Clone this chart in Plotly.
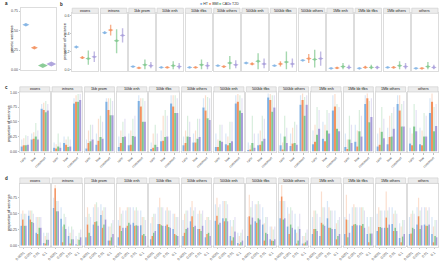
import plotly.graph_objects as go

TRAITS = ["HT", "BMI", "CAD", "T2D"]
COLORS = ["#7fb1e3", "#f3915e", "#7fc78d", "#a79cd9"]
ANNOTS = ["exons", "introns", "1kb prom", "10kb enh", "10kb tfbs", "10kb others",
          "500kb enh", "500kb tfbs", "500kb others", "1Mb enh", "1Mb kb tfbs",
          "1Mb others", "others"]
MAF_BINS = ["rare", "low", "common"]
P_BINS = ["0.0001", "0.001", "0.01", "0.1"]

# ---- panel a: genetic variance ----
A_VAL = [0.575, 0.28, 0.05, 0.07]
A_LO = [0.56, 0.27, 0.045, 0.065]
A_HI = [0.59, 0.29, 0.055, 0.075]

# ---- panel b: proportion of variance per annotation (centre, low, high) ----
B_MID = {
    "HT":  [0.25, 0.41, 0.03, 0.02, 0.02, 0.04, 0.07, 0.04, 0.10, 0.01, 0.01, 0.02, 0.01],
    "BMI": [0.13, 0.44, 0.015, 0.02, 0.02, 0.03, 0.06, 0.06, 0.12, 0.015, 0.02, 0.02, 0.01],
    "CAD": [0.12, 0.32, 0.05, 0.04, 0.05, 0.07, 0.09, 0.08, 0.11, 0.03, 0.02, 0.04, 0.03],
    "T2D": [0.14, 0.38, 0.04, 0.03, 0.04, 0.05, 0.06, 0.06, 0.12, 0.02, 0.02, 0.03, 0.02],
}
B_LO = {
    "HT":  [0.235, 0.395, 0.025, 0.015, 0.015, 0.035, 0.065, 0.035, 0.095, 0.005, 0.005, 0.015, 0.005],
    "BMI": [0.115, 0.38, 0.01, 0.015, 0.015, 0.02, 0.045, 0.03, 0.07, 0.005, 0.01, 0.01, 0.005],
    "CAD": [0.05, 0.18, 0.0, 0.0, 0.0, 0.0, 0.0, 0.0, 0.02, 0.0, 0.0, 0.0, 0.0],
    "T2D": [0.08, 0.30, 0.01, 0.0, 0.0, 0.01, 0.01, 0.02, 0.04, 0.0, 0.0, 0.0, 0.0],
}
B_HI = {
    "HT":  [0.265, 0.425, 0.035, 0.025, 0.025, 0.045, 0.075, 0.045, 0.105, 0.015, 0.015, 0.025, 0.015],
    "BMI": [0.145, 0.50, 0.02, 0.025, 0.025, 0.04, 0.075, 0.09, 0.17, 0.025, 0.04, 0.03, 0.015],
    "CAD": [0.21, 0.45, 0.11, 0.09, 0.11, 0.15, 0.18, 0.20, 0.22, 0.07, 0.05, 0.09, 0.08],
    "T2D": [0.20, 0.46, 0.08, 0.07, 0.08, 0.10, 0.12, 0.12, 0.20, 0.05, 0.04, 0.07, 0.05],
}

# ---- panel c: by MAF bin (rare, low, common) per annotation ----
C_VAL = {
    "HT":  [[0.08, 0.20, 0.72], [0.06, 0.14, 0.81], [0.045, 0.11, 0.84], [0.07, 0.10, 0.85],
            [0.04, 0.17, 0.81], [0.10, 0.15, 0.74], [0.07, 0.12, 0.81], [0.02, 0.10, 0.91],
            [0.10, 0.09, 0.79], [0.12, 0.21, 0.69], [0.07, 0.16, 0.80], [0.08, 0.12, 0.80],
            [0.13, 0.12, 0.65]],
    "BMI": [[0.10, 0.21, 0.70], [0.045, 0.11, 0.84], [0.14, 0.18, 0.70], [0.14, 0.11, 0.76],
            [0.06, 0.18, 0.76], [0.14, 0.15, 0.69], [0.07, 0.10, 0.84], [0.03, 0.11, 0.87],
            [0.03, 0.13, 0.87], [0.16, 0.17, 0.76], [0.04, 0.08, 0.90], [0.11, 0.24, 0.69],
            [0.10, 0.10, 0.84]],
    "CAD": [[0.10, 0.25, 0.66], [0.08, 0.07, 0.84], [0.17, 0.24, 0.61], [0.24, 0.26, 0.50],
            [0.11, 0.24, 0.65], [0.25, 0.21, 0.56], [0.18, 0.14, 0.69], [0.14, 0.17, 0.67],
            [0.25, 0.14, 0.60], [0.28, 0.35, 0.38], [0.20, 0.34, 0.49], [0.33, 0.25, 0.42],
            [0.42, 0.25, 0.34]],
    "T2D": [[0.11, 0.20, 0.69], [0.06, 0.08, 0.87], [0.20, 0.21, 0.61], [0.25, 0.25, 0.50],
            [0.07, 0.25, 0.65], [0.24, 0.24, 0.53], [0.16, 0.17, 0.65], [0.06, 0.21, 0.74],
            [0.14, 0.11, 0.79], [0.38, 0.30, 0.34], [0.14, 0.25, 0.58], [0.22, 0.38, 0.42],
            [0.34, 0.25, 0.43]],
}
C_HI = {
    "HT":  [[0.20, 0.30, 0.80], [0.15, 0.25, 0.90], [0.20, 0.30, 0.90], [0.25, 0.30, 0.95],
            [0.15, 0.35, 0.95], [0.25, 0.30, 0.90], [0.30, 0.30, 0.95], [0.15, 0.30, 0.98],
            [0.30, 0.30, 0.95], [0.35, 0.50, 0.95], [0.30, 0.45, 0.95], [0.30, 0.40, 0.95],
            [0.40, 0.40, 0.90]],
    "BMI": [[0.22, 0.32, 0.82], [0.12, 0.20, 0.95], [0.35, 0.55, 0.90], [0.35, 0.35, 0.90],
            [0.30, 0.60, 0.95], [0.35, 0.35, 0.95], [0.20, 0.25, 0.97], [0.10, 0.35, 0.97],
            [0.15, 0.40, 0.98], [0.45, 0.45, 0.97], [0.20, 0.35, 0.98], [0.40, 0.60, 0.95],
            [0.30, 0.35, 0.98]],
    "CAD": [[0.27, 0.48, 0.85], [0.30, 0.25, 0.97], [0.45, 0.60, 0.90], [0.50, 0.55, 0.90],
            [0.45, 0.70, 0.95], [0.60, 0.55, 0.92], [0.45, 0.50, 0.95], [0.60, 0.60, 0.95],
            [0.60, 0.50, 0.92], [0.75, 0.70, 0.80], [0.60, 0.70, 0.85], [0.75, 0.65, 0.80],
            [0.80, 0.65, 0.75]],
    "T2D": [[0.26, 0.35, 0.80], [0.15, 0.20, 0.97], [0.45, 0.50, 0.85], [0.55, 0.60, 0.85],
            [0.30, 0.60, 0.90], [0.50, 0.55, 0.90], [0.45, 0.50, 0.90], [0.30, 0.55, 0.95],
            [0.40, 0.45, 0.95], [0.70, 0.65, 0.75], [0.45, 0.60, 0.90], [0.55, 0.75, 0.85],
            [0.70, 0.60, 0.80]],
}

# ---- panel d: by p-value threshold bin per annotation ----
D_VAL = {
    "HT":  [[0.31, 0.47, 0.20, 0.04], [0.59, 0.42, 0.15, 0.02], [0.13, 0.33, 0.48, 0.08],
            [0.13, 0.28, 0.36, 0.32], [0.10, 0.34, 0.31, 0.26], [0.15, 0.38, 0.26, 0.13],
            [0.39, 0.43, 0.15, 0.04], [0.15, 0.38, 0.33, 0.10], [0.43, 0.30, 0.25, 0.03],
            [0.18, 0.15, 0.43, 0.26], [0.18, 0.31, 0.32, 0.18], [0.23, 0.28, 0.34, 0.12],
            [0.18, 0.33, 0.33, 0.18]],
    "BMI": [[0.41, 0.41, 0.18, 0.03], [0.90, 0.05, 0.03, 0.01], [0.33, 0.37, 0.28, 0.08],
            [0.31, 0.31, 0.31, 0.16], [0.15, 0.34, 0.33, 0.18], [0.20, 0.46, 0.26, 0.18],
            [0.47, 0.38, 0.08, 0.02], [0.46, 0.36, 0.08, 0.08], [0.77, 0.18, 0.03, 0.03],
            [0.26, 0.36, 0.28, 0.10], [0.41, 0.33, 0.31, 0.05], [0.29, 0.44, 0.23, 0.05],
            [0.19, 0.46, 0.31, 0.05]],
    "CAD": [[0.31, 0.37, 0.28, 0.09], [0.54, 0.33, 0.10, 0.09], [0.20, 0.38, 0.33, 0.13],
            [0.23, 0.36, 0.32, 0.18], [0.20, 0.32, 0.29, 0.16], [0.26, 0.29, 0.23, 0.20],
            [0.33, 0.43, 0.13, 0.05], [0.33, 0.43, 0.20, 0.07], [0.41, 0.33, 0.08, 0.05],
            [0.26, 0.33, 0.28, 0.15], [0.13, 0.34, 0.34, 0.19], [0.29, 0.28, 0.28, 0.14],
            [0.28, 0.26, 0.31, 0.15]],
    "T2D": [[0.31, 0.36, 0.28, 0.09], [0.54, 0.26, 0.10, 0.13], [0.15, 0.31, 0.41, 0.18],
            [0.28, 0.33, 0.31, 0.15], [0.23, 0.31, 0.28, 0.15], [0.28, 0.31, 0.31, 0.15],
            [0.36, 0.38, 0.22, 0.08], [0.44, 0.41, 0.18, 0.10], [0.43, 0.28, 0.26, 0.08],
            [0.23, 0.31, 0.26, 0.18], [0.20, 0.32, 0.28, 0.19], [0.28, 0.33, 0.23, 0.18],
            [0.26, 0.32, 0.33, 0.13]],
}
D_HI = {
    "HT":  [[0.50, 0.55, 0.45, 0.20], [0.75, 0.60, 0.30, 0.15], [0.45, 0.60, 0.65, 0.30],
            [0.40, 0.55, 0.60, 0.55], [0.35, 0.60, 0.55, 0.50], [0.40, 0.60, 0.50, 0.40],
            [0.65, 0.70, 0.40, 0.20], [0.45, 0.65, 0.60, 0.30], [0.70, 0.60, 0.50, 0.15],
            [0.45, 0.45, 0.70, 0.55], [0.45, 0.60, 0.60, 0.45], [0.50, 0.55, 0.60, 0.35],
            [0.45, 0.60, 0.60, 0.45]],
    "BMI": [[0.55, 0.55, 0.45, 0.15], [0.95, 0.30, 0.20, 0.10], [0.60, 0.65, 0.55, 0.30],
            [0.60, 0.60, 0.55, 0.45], [0.45, 0.75, 0.60, 0.50], [0.50, 0.70, 0.55, 0.45],
            [0.75, 0.70, 0.30, 0.15], [0.80, 0.65, 0.35, 0.30], [0.95, 0.50, 0.20, 0.15],
            [0.55, 0.85, 0.60, 0.35], [0.80, 0.65, 0.60, 0.30], [0.60, 0.85, 0.50, 0.30],
            [0.50, 0.75, 0.60, 0.30]],
    "CAD": [[0.50, 0.55, 0.45, 0.20], [0.70, 0.50, 0.30, 0.20], [0.50, 0.68, 0.60, 0.35],
            [0.50, 0.60, 0.60, 0.45], [0.50, 0.60, 0.55, 0.45], [0.55, 0.55, 0.50, 0.45],
            [0.60, 0.70, 0.40, 0.20], [0.60, 0.70, 0.45, 0.25], [0.70, 0.60, 0.30, 0.20],
            [0.55, 0.60, 0.55, 0.40], [0.40, 0.60, 0.60, 0.45], [0.55, 0.55, 0.55, 0.40],
            [0.55, 0.55, 0.55, 0.40]],
    "T2D": [[0.50, 0.50, 0.45, 0.20], [0.70, 0.45, 0.25, 0.25], [0.45, 0.60, 0.60, 0.40],
            [0.55, 0.60, 0.55, 0.40], [0.50, 0.60, 0.55, 0.45], [0.55, 0.60, 0.55, 0.40],
            [0.65, 0.65, 0.45, 0.25], [0.70, 0.65, 0.45, 0.30], [0.70, 0.55, 0.50, 0.25],
            [0.50, 0.60, 0.55, 0.45], [0.50, 0.60, 0.55, 0.45], [0.55, 0.60, 0.50, 0.40],
            [0.50, 0.60, 0.60, 0.40]],
}

# ------------------------------------------------------------------
W, H = 440, 264
FONT = "Liberation Sans"
TXT = "#4d4d4d"
BORDER = "#d4d4d4"
STRIP_FILL = "#ececec"
TICK_SIZE = 3.6
STRIP_SIZE = 3.8


def fx(p):
    return p / W


def fy(p):
    return 1 - p / H


def rgba(hexc, a):
    h = hexc.lstrip("#")
    return "rgba(%d,%d,%d,%.2f)" % (int(h[0:2], 16), int(h[2:4], 16), int(h[4:6], 16), a)


layout = dict(
    width=W, height=H, autosize=False,
    margin=dict(l=0, r=0, t=0, b=0),
    paper_bgcolor="white", plot_bgcolor="white",
    showlegend=False, barmode="group", bargap=0.18, bargroupgap=0.0,
    font=dict(family=FONT, size=4, color=TXT),
    hovermode=False,
)
traces = []
shapes = []
annotations = []
counter = [0]


def new_axes(x0, x1, y0, y1, yrange, yticks=None, ylabels=None, xcats=None, xrange=None):
    counter[0] += 1
    k = counter[0]
    sx = "" if k == 1 else str(k)
    xa = dict(domain=[fx(x0), fx(x1)], anchor="y" + sx, showgrid=False, zeroline=False,
              showline=True, mirror=True, linecolor=BORDER, linewidth=0.8, fixedrange=True)
    if xcats is not None:
        xa.update(type="category", categoryorder="array", categoryarray=xcats,
                  tickangle=-45, tickfont=dict(size=TICK_SIZE, color=TXT), ticks="outside",
                  ticklen=1.2, tickwidth=0.5, tickcolor="#888888", range=[-0.5, len(xcats) - 0.5])
    else:
        xa.update(showticklabels=False, ticks="", range=xrange)
    ya = dict(domain=[fy(y1), fy(y0)], anchor="x" + sx, range=yrange, showgrid=False,
              zeroline=False, showline=True, mirror=True, linecolor=BORDER, linewidth=0.8,
              fixedrange=True)
    if yticks is not None:
        ya.update(tickvals=yticks, ticktext=ylabels, tickfont=dict(size=TICK_SIZE, color=TXT),
                  ticks="outside", ticklen=1.2, tickwidth=0.5, tickcolor="#888888")
    else:
        ya.update(showticklabels=False, ticks="")
    layout["xaxis" + sx] = xa
    layout["yaxis" + sx] = ya
    return "x" + sx, "y" + sx


def strip(x0, x1, y0, y1, text):
    shapes.append(dict(type="rect", xref="paper", yref="paper", x0=fx(x0), x1=fx(x1),
                       y0=fy(y1), y1=fy(y0), fillcolor=STRIP_FILL,
                       line=dict(color=BORDER, width=0.8), layer="above"))
    annotations.append(dict(x=fx((x0 + x1) / 2), y=fy((y0 + y1) / 2), xref="paper", yref="paper",
                            text=text, showarrow=False, font=dict(size=STRIP_SIZE, color="#222222"),
                            xanchor="center", yanchor="middle"))


def label(x, y, text, size=4.5, bold=False, angle=0):
    annotations.append(dict(x=fx(x), y=fy(y), xref="paper", yref="paper",
                            text=("<b>%s</b>" % text) if bold else text, showarrow=False,
                            textangle=angle, font=dict(size=size, color="#222222"),
                            xanchor="center", yanchor="middle"))


def facet_positions(x0, x1, n, gap):
    w = (x1 - x0 - gap * (n - 1)) / n
    return [(x0 + i * (w + gap), x0 + i * (w + gap) + w) for i in range(n)]


# ---------------- panel a ----------------
xa, ya = new_axes(16, 52, 7.3, 70, [-0.009, 0.788], [0, 0.25, 0.5, 0.75],
                  ["0.00", "0.25", "0.50", "0.75"], xrange=[-0.6, 3.6])
for i, t in enumerate(TRAITS):
    traces.append(go.Scatter(
        x=[i], y=[A_VAL[i]], xaxis=xa, yaxis=ya, mode="markers",
        marker=dict(symbol="diamond-wide", size=5 if i < 2 else 7, color=rgba(COLORS[i], 0.9),
                    line=dict(width=0)),
        error_y=dict(type="data", symmetric=False, array=[A_HI[i] - A_VAL[i]],
                     arrayminus=[A_VAL[i] - A_LO[i]], color=rgba(COLORS[i], 0.8),
                     thickness=1.0, width=0),
        hoverinfo="skip"))
label(2, 3, "a", bold=True)
label(6.5, 38, "genetic variance", size=3.8, angle=-90)

# ---------------- panel b ----------------
b_pos = facet_positions(68, 438, 13, 2.1)
for j, (x0, x1) in enumerate(b_pos):
    first = j == 0
    xa, ya = new_axes(x0, x1, 12.5, 71, [-0.022, 0.628],
                      [0, 0.2, 0.4, 0.6] if first else None,
                      ["0.0", "0.2", "0.4", "0.6"] if first else None, xrange=[-0.7, 3.7])
    strip(x0, x1, 7.3, 12.5, ANNOTS[j])
    for i, t in enumerate(TRAITS):
        mid, lo, hi = B_MID[t][j], B_LO[t][j], B_HI[t][j]
        traces.append(go.Scatter(
            x=[i], y=[mid], xaxis=xa, yaxis=ya, mode="markers",
            marker=dict(symbol="diamond-wide", size=4, color=rgba(COLORS[i], 0.85),
                        line=dict(width=0)),
            error_y=dict(type="data", symmetric=False, array=[hi - mid], arrayminus=[mid - lo],
                         color=rgba(COLORS[i], 0.7), thickness=1.4, width=0),
            hoverinfo="skip"))
label(57, 4, "b", bold=True)
label(60, 41, "proportion of variance", size=3.8, angle=-90)

# ---------------- panel c ----------------
c_pos = facet_positions(15, 438, 13, 2.5)
for j, (x0, x1) in enumerate(c_pos):
    first = j == 0
    xa, ya = new_axes(x0, x1, 92, 153.3, [-0.022, 1.005],
                      [0, 0.25, 0.5, 0.75, 1.0] if first else None,
                      ["0.00", "0.25", "0.50", "0.75", "1.00"] if first else None,
                      xcats=MAF_BINS)
    strip(x0, x1, 86.8, 92, ANNOTS[j])
    for i, t in enumerate(TRAITS):
        vals = C_VAL[t][j]
        his = C_HI[t][j]
        traces.append(go.Bar(
            x=MAF_BINS, y=vals, xaxis=xa, yaxis=ya, marker=dict(color=COLORS[i], line=dict(width=0)),
            error_y=dict(type="data", symmetric=False, array=[h - v for h, v in zip(his, vals)],
                         arrayminus=[0] * 3, color=rgba(COLORS[i], 0.3), thickness=1.2, width=0),
            hoverinfo="skip", offsetgroup=str(i)))
label(1.5, 87, "c", bold=True)
label(3.5, 124, "proportion of variance", size=3.8, angle=-90)

# ---------------- panel d ----------------
for j, (x0, x1) in enumerate(c_pos):
    first = j == 0
    xa, ya = new_axes(x0, x1, 184.5, 249, [-0.026, 0.977],
                      [0, 0.25, 0.5, 0.75] if first else None,
                      ["0.00", "0.25", "0.50", "0.75"] if first else None,
                      xcats=P_BINS)
    strip(x0, x1, 179, 184.5, ANNOTS[j])
    for i, t in enumerate(TRAITS):
        vals = D_VAL[t][j]
        his = D_HI[t][j]
        traces.append(go.Bar(
            x=P_BINS, y=vals, xaxis=xa, yaxis=ya, marker=dict(color=COLORS[i], line=dict(width=0)),
            error_y=dict(type="data", symmetric=False, array=[h - v for h, v in zip(his, vals)],
                         arrayminus=[0] * 4, color=rgba(COLORS[i], 0.3), thickness=1.2, width=0),
            hoverinfo="skip", offsetgroup=str(i)))
label(1.5, 180, "d", bold=True)
label(3.5, 214, "proportion of variance", size=3.8, angle=-90)

# ---------------- legend (manual, top centre) ----------------
leg_x = [195, 204, 214.5, 225]
for i, t in enumerate(TRAITS):
    annotations.append(dict(x=fx(leg_x[i]), y=fy(2.6), xref="paper", yref="paper",
                            text="<span style='color:%s'>■</span> %s" % (COLORS[i], t),
                            showarrow=False, font=dict(size=3.6, color="#333333"),
                            xanchor="left", yanchor="middle"))

layout["shapes"] = shapes
layout["annotations"] = annotations
fig = go.Figure(data=traces, layout=layout)
fig.write_html("out.html", config={"displayModeBar": False, "staticPlot": True},
               post_script="document.body.style.margin='0';document.body.style.overflow='hidden';")
